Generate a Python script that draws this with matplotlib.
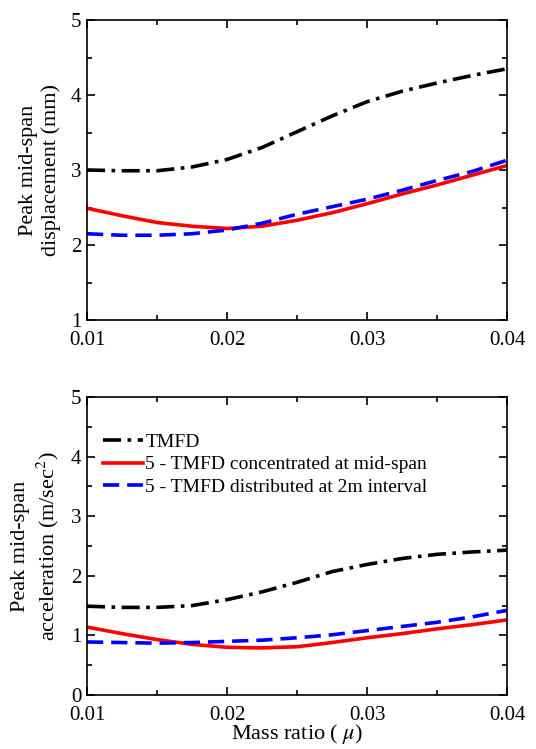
import numpy as np
import matplotlib.pyplot as plt
from matplotlib.ticker import MultipleLocator, FixedLocator, FormatStrFormatter

plt.rcParams['font.family'] = ['Liberation Serif', 'DejaVu Serif']
plt.rcParams['mathtext.fontset'] = 'stix'

# Massenverhaeltnis
mu = [0.01, 0.0125, 0.015, 0.0175, 0.02, 0.0225, 0.025, 0.0275, 0.03, 0.0325, 0.035, 0.0375, 0.04]

# Verschiebung (mm)
disp_tmfd = [3.00, 2.99, 2.99, 3.04, 3.14, 3.30, 3.51, 3.72, 3.91, 4.05, 4.16, 4.26, 4.35]
disp_conc = [2.49, 2.39, 2.30, 2.25, 2.22, 2.25, 2.33, 2.43, 2.55, 2.68, 2.80, 2.93, 3.06]
disp_dist = [2.15, 2.13, 2.13, 2.15, 2.20, 2.29, 2.41, 2.51, 2.61, 2.73, 2.86, 2.98, 3.13]

# Beschleunigung (m/s^2)
acc_tmfd = [1.49, 1.47, 1.47, 1.50, 1.60, 1.73, 1.89, 2.07, 2.19, 2.29, 2.36, 2.40, 2.43]
acc_conc = [1.14, 1.03, 0.93, 0.85, 0.80, 0.79, 0.81, 0.88, 0.96, 1.03, 1.11, 1.18, 1.26]
acc_dist = [0.89, 0.88, 0.87, 0.88, 0.90, 0.92, 0.96, 1.01, 1.08, 1.15, 1.22, 1.31, 1.42]

labels = ['TMFD', '5 - TMFD concentrated at mid-span', '5 - TMFD distributed at 2m interval']
xticks = [0.01, 0.02, 0.03, 0.04]
xminor = [0.015, 0.025, 0.035]

fig = plt.figure(figsize=(5.36, 7.49), dpi=100)
ax1 = fig.add_axes([87/536, 1 - 320/749, 420/536, 300/749])
ax2 = fig.add_axes([87/536, 1 - 695/749, 420/536, 298/749])

def draw(ax, y1, y2, y3):
    ax.plot(mu, y1, color='black', lw=2.6, dashes=(5, 1.8, 1, 1.8), label=labels[0])
    ax.plot(mu, y2, color='#ff0000', lw=2.6, ls='-', label=labels[1])
    ax.plot(mu, y3, color='#0000ff', lw=2.6, dashes=(4.5, 2.2), label=labels[2])
    ax.set_xlim(0.01, 0.04)
    ax.xaxis.set_major_locator(FixedLocator(xticks))
    ax.xaxis.set_minor_locator(FixedLocator(xminor))
    ax.xaxis.set_major_formatter(FormatStrFormatter('%.2f'))
    ax.yaxis.set_major_locator(MultipleLocator(1))
    ax.yaxis.set_minor_locator(MultipleLocator(0.5))
    ax.tick_params(which='both', direction='in', top=True, right=True, labelsize=15, width=1.2)
    ax.tick_params(which='major', length=6)
    ax.tick_params(which='minor', length=3.5)
    ax.tick_params(axis='x', pad=8)
    ax.tick_params(axis='y', pad=4)
    for s in ax.spines.values():
        s.set_linewidth(1.2)

draw(ax1, disp_tmfd, disp_conc, disp_dist)
ax1.set_ylim(1, 5)
ax1.set_ylabel('Peak mid-span\ndisplacement (mm)', fontsize=16, linespacing=1.25, labelpad=7)

draw(ax2, acc_tmfd, acc_conc, acc_dist)
ax2.set_ylim(0, 5)
ax2.set_ylabel('Peak mid-span\nacceleration (m/sec$^2$)', fontsize=16, linespacing=1.25, labelpad=7)
ax2.set_xlabel(r'Mass ratio ( $\mu$)', fontsize=16, labelpad=-2)
ax2.legend(loc='upper left', bbox_to_anchor=(0.0, 0.93), frameon=False, fontsize=14,
           handlelength=2.1, handletextpad=0.1, labelspacing=0.25, borderaxespad=0.4)

fig.savefig('out.png', dpi=100)
